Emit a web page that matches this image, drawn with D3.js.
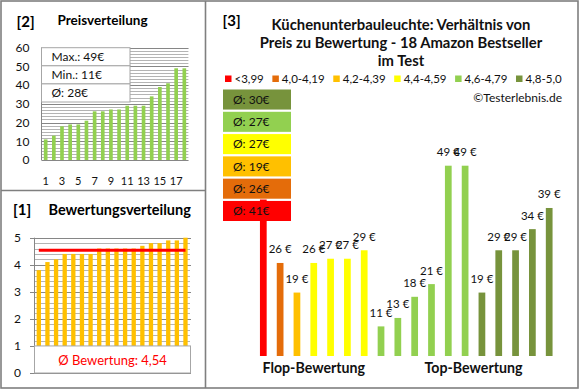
<!DOCTYPE html>
<html><head><meta charset="utf-8">
<script src="https://cdn.jsdelivr.net/npm/d3@7"></script>
<style>
html,body{margin:0;padding:0;background:#fff;}
text{font-family:Lato,"Open Sans",sans-serif;}
</style></head>
<body><svg id="c" width="580" height="390"></svg>
<script>
// ---- data ----
const sortedPrices = [11,13,18,19,19,21,26,26,27,27,29,29,29,34,39,41,49,49];
const priceXLabels = ["1","3","5","7","9","11","13","15","17"];
const priceYTicks = [0,10,20,30,40,50,60];
const priceStats = ["Max.: 49€","Min.: 11€","Ø: 28€"];

const sortedRatings = [3.8,4.1,4.2,4.4,4.4,4.4,4.4,4.6,4.6,4.6,4.6,4.6,4.7,4.8,4.8,4.9,4.9,5.0];
const ratingYTicks = [0,1,2,3,4,5];
const avgRating = 4.54;
const avgRatingLabel = "Ø Bewertung: 4,54";

const groupLabels = ["<3,99","4,0-4,19","4,2-4,39","4,4-4,59","4,6-4,79","4,8-5,0"];
const groupColors = ["#FF0000","#E46C0A","#FFC000","#FFFF00","#92D050","#77933C"];
const groupAvgLabels = ["Ø: 41€","Ø: 26€","Ø: 19€","Ø: 27€","Ø: 27€","Ø: 30€"];
const barPrices = [41,26,19,26,27,27,29,11,13,18,21,49,49,19,29,29,34,39];
const barGroups = [0,1,2,3,3,3,3,4,4,4,4,4,4,5,5,5,5,5];
const titleLines = ["Küchenunterbauleuchte: Verhältnis von","Preis zu Bewertung - 18 Amazon Bestseller","im Test"];

const svg = d3.select("#c");
const frameCol = "#7f7f7f", gridMajor = "#868686", gridMinor = "#b4b4b4";

svg.append("rect").attr("x",1).attr("y",1).attr("width",577).attr("height",387)
  .attr("fill","#fff").attr("stroke",frameCol).attr("stroke-width",1.6);

// ================= Panel [2] Preisverteilung =================
{
  const g = svg.append("g");
  const y = d3.scaleLinear().domain([0,60]).range([160,47.7]);
  const x = d3.scaleBand().domain(d3.range(sortedPrices.length)).range([41.6,188.4])
    .paddingInner(0.55).paddingOuter(0.275);
  const minor = d3.range(0,37).map(i=>i*10/6);
  g.selectAll(".mn").data(minor).join("line")
    .attr("x1",41.6).attr("x2",188.4).attr("y1",d=>Math.round(y(d))+0.5).attr("y2",d=>Math.round(y(d))+0.5)
    .attr("stroke",gridMinor).attr("stroke-width",1);
  g.selectAll(".mj").data(priceYTicks).join("line")
    .attr("x1",41.6).attr("x2",188.4).attr("y1",d=>Math.round(y(d))+0.5).attr("y2",d=>Math.round(y(d))+0.5)
    .attr("stroke",gridMajor).attr("stroke-width",1);
  g.append("line").attr("x1",41.5).attr("x2",41.5).attr("y1",y(60)).attr("y2",y(0)).attr("stroke",gridMajor);
  g.selectAll(".yl").data(priceYTicks).join("text")
    .attr("x",29.5).attr("y",d=>y(d)+4.3).attr("text-anchor","end")
    .attr("font-size",12).attr("fill","#111").text(d=>d);
  g.selectAll(".bar").data(sortedPrices).join("rect")
    .attr("x",(d,i)=>x(i)).attr("width",x.bandwidth())
    .attr("y",d=>y(d)).attr("height",d=>y(0)-y(d)).attr("fill","#92D050");
  g.selectAll(".xl").data(priceXLabels).join("text")
    .attr("x",d=>x(+d-1)+x.bandwidth()/2).attr("y",185).attr("text-anchor","middle")
    .attr("font-size",11).attr("fill","#111").text(d=>d);
  // stats table
  const ty = d3.scaleBand().domain(d3.range(priceStats.length)).range([47.7,102]);
  g.selectAll(".tb").data(priceStats).join("rect")
    .attr("x",41.5).attr("y",(d,i)=>ty(i)).attr("width",88.5).attr("height",ty.bandwidth())
    .attr("fill","#fff").attr("stroke","#a6a6a6").attr("stroke-width",1);
  g.selectAll(".tt").data(priceStats).join("text")
    .attr("x",51.5).attr("y",(d,i)=>ty(i)+ty.bandwidth()/2+4.3)
    .attr("font-size",12).attr("fill","#111").text(d=>d);
  g.append("text").attr("x",16.5).attr("y",27).attr("font-size",15).attr("font-weight","bold").text("[2]");
  g.append("text").attr("x",57.5).attr("y",25).attr("font-size",13.5).attr("font-weight","bold").text("Preisverteilung");
}

// ================= Panel [1] Bewertungsverteilung =================
{
  const g = svg.append("g");
  const y = d3.scaleLinear().domain([0,5]).range([373,237.7]);
  const x = d3.scaleBand().domain(d3.range(sortedRatings.length)).range([34.5,189.8])
    .paddingInner(0.5).paddingOuter(0.25);
  const minor = d3.range(0,26).map(i=>i*0.2);
  g.selectAll(".mn").data(minor).join("line")
    .attr("x1",34.3).attr("x2",190).attr("y1",d=>Math.round(y(d))+0.5).attr("y2",d=>Math.round(y(d))+0.5)
    .attr("stroke",gridMinor);
  g.selectAll(".mj").data(ratingYTicks).join("line")
    .attr("x1",30).attr("x2",191).attr("y1",d=>Math.round(y(d))+0.5).attr("y2",d=>Math.round(y(d))+0.5)
    .attr("stroke",gridMajor);
  g.append("line").attr("x1",34.5).attr("x2",34.5).attr("y1",y(5)).attr("y2",y(0)).attr("stroke",gridMajor);
  g.selectAll(".yl").data(ratingYTicks).join("text")
    .attr("x",21).attr("y",d=>y(d)+4.3).attr("text-anchor","end")
    .attr("font-size",12).attr("fill","#111").text(d=>d);
  g.selectAll(".bar").data(sortedRatings).join("rect")
    .attr("x",(d,i)=>x(i)).attr("width",x.bandwidth())
    .attr("y",d=>y(d)).attr("height",d=>y(0)-y(d)).attr("fill","#FFC000");
  g.append("line").attr("x1",x(0)+x.bandwidth()/2).attr("x2",x(sortedRatings.length-1)+x.bandwidth()/2)
    .attr("y1",y(avgRating)).attr("y2",y(avgRating)).attr("stroke","#FF0000").attr("stroke-width",3);
  g.append("rect").attr("x",34.5).attr("y",y(1)).attr("width",156).attr("height",y(0)-y(1))
    .attr("fill","#fff").attr("stroke","#a6a6a6");
  g.append("text").attr("x",(34.5+190.5)/2).attr("y",365).attr("text-anchor","middle")
    .attr("font-size",13).attr("fill","#FF0000").text(avgRatingLabel);
  g.append("text").attr("x",13).attr("y",215).attr("font-size",15).attr("font-weight","bold").text("[1]");
  g.append("text").attr("x",48.5).attr("y",215).attr("font-size",14.5).attr("font-weight","bold").text("Bewertungsverteilung");
}

// ================= Panel [3] =================
{
  const g = svg.append("g");
  const x = d3.scaleBand().domain(d3.range(barPrices.length)).range([254.9,557.6])
    .paddingInner(0.6).paddingOuter(0.3);
  const y = d3.scaleLinear().domain([4,49]).range([356,165.7]);
  const boxX0 = 223, boxW = 68, boxBottom = 221;
  const by = d3.scaleBand().domain(d3.range(groupLabels.length).reverse()).range([89.5,boxBottom]).paddingInner(0.1);
  g.selectAll(".bar").data(barPrices).join("rect")
    .attr("x",(d,i)=>x(i)).attr("width",x.bandwidth())
    .attr("y",d=>y(d)).attr("height",d=>y(4)-y(d)).attr("fill",(d,i)=>groupColors[barGroups[i]]);
  // value labels (those hidden under the average boxes are not drawn)
  const labelData = barPrices.map((v,i)=>({v,i,cx:x(i)+x.bandwidth()/2,ly:y(v)-9.5}))
    .filter(d=>!(d.cx < boxX0+boxW+8 && d.ly < boxBottom+2));
  g.selectAll(".vl").data(labelData).join("text")
    .attr("x",d=>d.cx).attr("y",d=>d.ly).attr("text-anchor","middle")
    .attr("font-size",11.5).attr("fill","#111").text(d=>d.v+" €");
  // average boxes (red at bottom)
  g.selectAll(".ab").data(groupAvgLabels).join("rect")
    .attr("x",boxX0).attr("y",(d,i)=>by(i)).attr("width",boxW).attr("height",by.bandwidth())
    .attr("fill",(d,i)=>groupColors[i]);
  g.selectAll(".at").data(groupAvgLabels).join("text")
    .attr("x",233).attr("y",(d,i)=>by(i)+by.bandwidth()/2+4.3)
    .attr("font-size",12).attr("fill","#111").text(d=>d);
  // legend
  const lg = g.append("g");
  const items = lg.selectAll("g").data(groupLabels).join("g");
  items.append("rect").attr("width",6.5).attr("height",6.5).attr("y",75.5).attr("fill",(d,i)=>groupColors[i]);
  items.append("text").attr("x",9.5).attr("y",83).attr("font-size",11.5).attr("fill","#111").text(d=>d);
  const widths = [];
  items.each(function(){ widths.push(this.getBBox().width); });
  const total = d3.sum(widths), start = 225, end = 562;
  const gap = (end-start-total)/(groupLabels.length-1);
  let cx = start;
  items.attr("transform",(d,i)=>{ const t=`translate(${cx},0)`; cx += widths[i]+gap; return t; });
  // titles
  g.append("text").attr("x",222.5).attr("y",26).attr("font-size",15).attr("font-weight","bold").text("[3]");
  g.selectAll(".tl").data(titleLines).join("text")
    .attr("x",401).attr("y",(d,i)=>30+i*18).attr("text-anchor","middle")
    .attr("font-size",14.8).attr("font-weight","bold").attr("fill","#111").text(d=>d);
  g.append("text").attr("x",562).attr("y",102).attr("text-anchor","end")
    .attr("font-size",12).attr("fill","#111").text("©Testerlebnis.de");
  const cxOf = i => x(i)+x.bandwidth()/2;
  g.append("text").attr("x",(cxOf(0)+cxOf(6))/2).attr("y",373).attr("text-anchor","middle")
    .attr("font-size",14.2).attr("font-weight","bold").attr("fill","#111").text("Flop-Bewertung");
  g.append("text").attr("x",(cxOf(8)+cxOf(17))/2).attr("y",373).attr("text-anchor","middle")
    .attr("font-size",14.2).attr("font-weight","bold").attr("fill","#111").text("Top-Bewertung");
}

// dividers
svg.append("line").attr("x1",205.5).attr("x2",205.5).attr("y1",1).attr("y2",388).attr("stroke",frameCol).attr("stroke-width",1.6);
svg.append("line").attr("x1",1).attr("x2",205.5).attr("y1",190.5).attr("y2",190.5).attr("stroke",frameCol).attr("stroke-width",1.6);
</script></body></html>
